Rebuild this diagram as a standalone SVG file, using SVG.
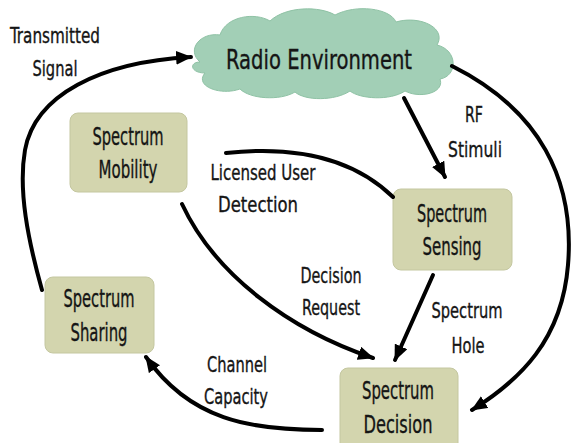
<svg xmlns="http://www.w3.org/2000/svg" width="587" height="443" viewBox="0 0 587 443">
<style>
.node rect{fill:#d3d5ae;stroke:#c4c7a0;stroke-width:1}
text{font-family:"DejaVu Sans Condensed","DejaVu Sans","Liberation Sans",sans-serif;font-stretch:condensed;fill:#151515;text-anchor:middle;stroke:#151515;stroke-width:0.35}
.nt{font-size:24px}
.lb{font-size:22px}
.conn path{fill:none;stroke:#000;stroke-width:4;stroke-linecap:round}
</style>
<defs>
<marker id="ah" viewBox="0 0 14 12" refX="13" refY="6" markerWidth="16" markerHeight="14" markerUnits="userSpaceOnUse" orient="auto">
<path d="M0,0 L14,6 L0,12 Z" fill="#000"/>
</marker>
</defs>
<rect width="587" height="443" fill="#fff"/>
<g id="radio-environment">
<path d="M200,62 C186,50 200,32 220,35 C226,16 255,12 270,21 C286,6 320,6 335,15 C356,4 390,8 396,22 C420,15 447,28 437,45 C458,50 458,76 440,79 C445,93 420,99 405,91 C390,101 360,99 350,91 C335,101 305,101 295,92 C280,101 250,99 240,89 C220,96 194,86 205,73 C190,73 189,62 200,62 Z" fill="#a2cfb6" stroke="#8fc2a5" stroke-width="1"/>
<text x="319" y="69" font-size="26" textLength="186" lengthAdjust="spacingAndGlyphs">Radio Environment</text>
</g>
<g id="spectrum-mobility" class="node">
<rect x="70" y="113" width="117" height="79" rx="8"/>
<text class="nt" x="128" y="145" textLength="71" lengthAdjust="spacingAndGlyphs">Spectrum</text>
<text class="nt" x="128" y="178" textLength="59" lengthAdjust="spacingAndGlyphs">Mobility</text>
</g>
<g id="spectrum-sensing" class="node">
<rect x="393" y="189" width="119" height="81" rx="8"/>
<text class="nt" x="452" y="222" textLength="70" lengthAdjust="spacingAndGlyphs">Spectrum</text>
<text class="nt" x="452" y="255" textLength="59" lengthAdjust="spacingAndGlyphs">Sensing</text>
</g>
<g id="spectrum-sharing" class="node">
<rect x="45" y="277" width="109" height="76" rx="8"/>
<text class="nt" x="99" y="307" textLength="71" lengthAdjust="spacingAndGlyphs">Spectrum</text>
<text class="nt" x="99" y="341" textLength="57" lengthAdjust="spacingAndGlyphs">Sharing</text>
</g>
<g id="spectrum-decision" class="node">
<rect x="340" y="368" width="118" height="85" rx="8"/>
<text class="nt" x="398" y="399" textLength="72" lengthAdjust="spacingAndGlyphs">Spectrum</text>
<text class="nt" x="398" y="433" textLength="69" lengthAdjust="spacingAndGlyphs">Decision</text>
</g>
<g id="connectors" class="conn">
<path d="M42,290 C28,240 18,190 25,150 C35,95 100,62 191,57" marker-end="url(#ah)"/>
<path d="M404,98 L445,177" marker-end="url(#ah)"/>
<path d="M452,66 C540,110 575,180 568,265 C562,340 520,380 472,410" marker-end="url(#ah)"/>
<path d="M226,153 C300,145 355,160 393,197"/>
<path d="M182,204 C215,275 290,330 373,358" marker-end="url(#ah)"/>
<path d="M433,275 L395,360" marker-end="url(#ah)"/>
<path d="M322,430 C250,430 190,420 146,357" marker-end="url(#ah)"/>
</g>
<g id="labels">
<text class="lb" x="55" y="43" textLength="90" lengthAdjust="spacingAndGlyphs">Transmitted</text>
<text class="lb" x="55" y="76" textLength="45" lengthAdjust="spacingAndGlyphs">Signal</text>
<text class="lb" x="474" y="122" textLength="18" lengthAdjust="spacingAndGlyphs">RF</text>
<text class="lb" x="475" y="157" textLength="54" lengthAdjust="spacingAndGlyphs">Stimuli</text>
<text class="lb" x="263" y="180" textLength="105" lengthAdjust="spacingAndGlyphs">Licensed User</text>
<text class="lb" x="258" y="212" textLength="80" lengthAdjust="spacingAndGlyphs">Detection</text>
<text class="lb" x="331" y="283" textLength="61" lengthAdjust="spacingAndGlyphs">Decision</text>
<text class="lb" x="331" y="315" textLength="58" lengthAdjust="spacingAndGlyphs">Request</text>
<text class="lb" x="467" y="318" textLength="71" lengthAdjust="spacingAndGlyphs">Spectrum</text>
<text class="lb" x="468" y="353" textLength="33" lengthAdjust="spacingAndGlyphs">Hole</text>
<text class="lb" x="237" y="372" textLength="60" lengthAdjust="spacingAndGlyphs">Channel</text>
<text class="lb" x="236" y="404" textLength="64" lengthAdjust="spacingAndGlyphs">Capacity</text>
</g>
</svg>
